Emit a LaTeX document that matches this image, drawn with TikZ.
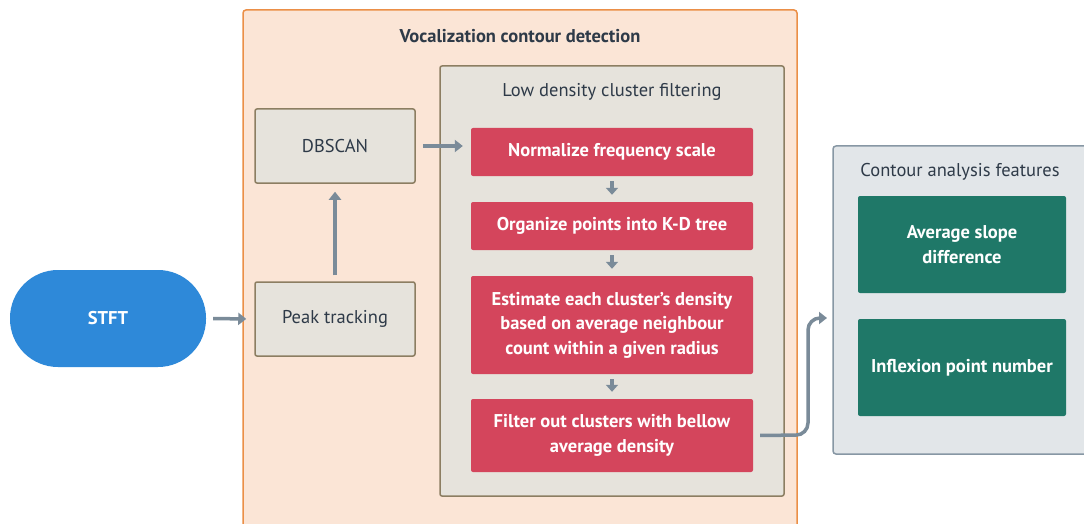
\documentclass[tikz,border=0pt]{standalone}
\usepackage{fontspec}
\setmainfont{PT Sans}
\usetikzlibrary{arrows.meta,positioning}
\definecolor{orfill}{HTML}{FBE5D6}
\definecolor{ordraw}{HTML}{EB8F47}
\definecolor{grfill}{HTML}{E6E3DC}
\definecolor{grdraw}{HTML}{8C7E62}
\definecolor{rdfill}{HTML}{D4455C}
\definecolor{gnfill}{HTML}{1F7868}
\definecolor{blfill}{HTML}{2E89D9}
\definecolor{bxfill}{HTML}{E2E6E9}
\definecolor{bxdraw}{HTML}{8797A4}
\definecolor{txt}{HTML}{2E3A48}
\definecolor{arr}{HTML}{7A8B99}
\tikzset{
  x=1pt,y=-1pt,
  every node/.style={font=\fontsize{18.5}{22}\selectfont,text=txt,align=center},
  graybox/.style={draw=grdraw,fill=grfill,line width=1.5pt,rounded corners=2pt},
  redbox/.style={fill=rdfill,rounded corners=2pt,text=white,font=\bfseries\fontsize{18.5}{24.5}\selectfont},
  greenbox/.style={fill=gnfill,rounded corners=2pt,text=white,font=\bfseries\fontsize{18.5}{24.5}\selectfont},
  conn/.style={draw=arr,line width=3.5pt,-{Triangle[length=8pt,width=12pt]}},
  small/.style={draw=arr,line width=3.5pt,-{Triangle[length=7pt,width=12pt]}},
}
\begin{document}
\begin{tikzpicture}
\useasboundingbox (0,0) rectangle (1084,524);
\fill[white] (0,0) rectangle (1084,524);
\begin{scope}
\clip (0,0) rectangle (1084,524);
% outer orange box
\draw[fill=orfill,draw=ordraw,line width=1.5pt,rounded corners=3pt] (243,10) rectangle (797,560);
\node[font=\bfseries\fontsize{18.5}{22}\selectfont] (title) at (520,36) {Vocalization contour detection};
% right box
\draw[fill=bxfill,draw=bxdraw,line width=1.5pt,rounded corners=3pt] (833,146) rectangle (1100,454);
\end{scope}
\node (ctitle) at (960,172) {Contour analysis features};
% inner gray box
\draw[graybox] (440,66) rectangle (784,496);
\node (ltitle) at (612,92) {Low density cluster filtering};
% left nodes
\node[graybox,minimum width=160pt,minimum height=74pt] (dbscan) at (335,146) {DBSCAN};
\node[graybox,minimum width=160pt,minimum height=74pt] (peak) at (335,319) {Peak tracking};
\node[fill=blfill,rounded corners=48pt,minimum width=196pt,minimum height=97pt,text=white,font=\bfseries\fontsize{18.5}{22}\selectfont] (stft) at (108,318.5) {STFT};
% red boxes
\node[redbox,minimum width=282pt,minimum height=48pt] (norm) at (612,152) {Normalize frequency scale};
\node[redbox,minimum width=282pt,minimum height=48pt] (org) at (612,226) {Organize points into K-D tree};
\node[redbox,minimum width=282pt,minimum height=98pt] (est) at (612,325) {Estimate each cluster’s density\\based on average neighbour\\count within a given radius};
\node[redbox,minimum width=282pt,minimum height=73pt] (filt) at (612,435.5) {Filter out clusters with bellow\\average density};
% green boxes
\node[greenbox,minimum width=208pt,minimum height=97pt] (slope) at (962,244.5) {Average slope\\difference};
\node[greenbox,minimum width=208pt,minimum height=97pt] (infl) at (962,367.5) {Inflexion point number};
% connectors
\draw[conn,shorten <=7pt,shorten >=8pt] (stft.east) -- (peak.west);
\draw[conn,shorten <=6pt,shorten >=8pt] (peak.north) -- (dbscan.south);
\draw[conn,shorten <=7pt,shorten >=8pt] (dbscan.east) -- (dbscan.east -| norm.west);
\draw[small,shorten <=5pt,shorten >=7pt] (norm.south) -- (org.north);
\draw[small,shorten <=5pt,shorten >=7pt] (org.south) -- (est.north);
\draw[small,shorten <=5pt,shorten >=7pt] (est.south) -- (filt.north);
\coordinate (bend) at (827,318);
\draw[conn,shorten <=7pt,rounded corners=12pt] (filt.east) -- (808,435) -- (808,318) -- (bend);
\end{tikzpicture}
\end{document}
